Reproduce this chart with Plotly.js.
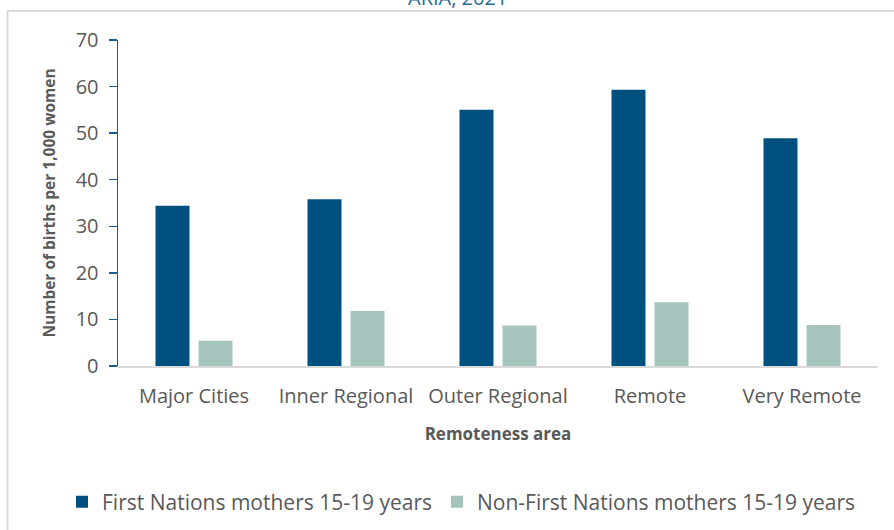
<!DOCTYPE html>
<html>
<head>
<meta charset="utf-8">
<script src="https://cdn.plot.ly/plotly-3.0.1.min.js"></script>
<style>html,body{margin:0;padding:0;background:#fff;}#chart{width:894px;height:530px;}</style>
</head>
<body>
<div id="chart"></div>
<script>
const categories = ["Major Cities", "Inner Regional", "Outer Regional", "Remote", "Very Remote"];
const firstNations = [34.4, 35.8, 55.0, 59.3, 48.9];
const nonFirstNations = [5.4, 11.8, 8.7, 13.7, 8.8];
const seriesNames = ["First Nations mothers 15-19 years", "Non-First Nations mothers 15-19 years"];
const yTicks = [0, 10, 20, 30, 40, 50, 60, 70];

const FONT = "'Open Sans', Lato, sans-serif";
const GREY = "#595959";

const traces = [
  {type: "bar", x: categories, y: firstNations, name: seriesNames[0],
   marker: {color: "#00507f"}, hoverinfo: "skip"},
  {type: "bar", x: categories, y: nonFirstNations, name: seriesNames[1],
   marker: {color: "#a5c4bd"}, hoverinfo: "skip"}
];

const W = 894, H = 530, L = 118, R = 16, T = 40, B = 164;
const pw = W - L - R, ph = H - T - B;
const px = v => (v - L) / pw;
const py = v => (H - B - v) / ph;

const layout = {
  width: W, height: H,
  margin: {l: L, r: R, t: T, b: B, pad: 0, autoexpand: false},
  paper_bgcolor: "#ffffff", plot_bgcolor: "#ffffff",
  font: {family: FONT, color: GREY, size: 20},
  barmode: "group", bargap: 0.434, bargroupgap: 0.21,
  showlegend: true,
  legend: {orientation: "h", x: px(62), xanchor: "left", y: py(502), yanchor: "middle",
           font: {family: FONT, size: 21, color: GREY}, traceorder: "normal",
           itemwidth: 30, bgcolor: "rgba(0,0,0,0)"},
  xaxis: {
    type: "category", showgrid: false, zeroline: false, automargin: false,
    showline: true, linecolor: "#d9d9d9", linewidth: 2,
    ticks: "", ticklabelstandoff: 11, tickfont: {family: FONT, size: 20, color: GREY},
    title: {text: "<b>Remoteness area</b>", font: {family: FONT, size: 17, color: GREY}, standoff: 20}
  },
  yaxis: {
    range: [0, 70], tickvals: yTicks, ticktext: yTicks.map(String),
    showgrid: false, zeroline: false, automargin: false,
    showline: true, linecolor: "#1f5b8a", linewidth: 1.5,
    ticks: "outside", ticklen: 8, tickcolor: "#1f5b8a", tickwidth: 1.5,
    ticklabelstandoff: 6,
    tickfont: {family: FONT, size: 20, color: GREY},
    title: {text: "<b>Number of births per 1,000 women</b>", font: {family: FONT, size: 15.5, color: GREY}, standoff: 16}
  },
  annotations: [
    {text: "ARIA, 2021", xref: "paper", yref: "paper", x: px(457), y: py(-3),
     xanchor: "center", yanchor: "middle", showarrow: false,
     font: {family: FONT, size: 20, color: "#1f6a9a"}}
  ],
  shapes: [
    {type: "line", xref: "paper", yref: "paper", x0: px(7.5), x1: px(7.5), y0: py(11), y1: py(531),
     line: {color: "#d9d9d9", width: 2}},
    {type: "line", xref: "paper", yref: "paper", x0: px(7.5), x1: px(895), y0: py(11), y1: py(11),
     line: {color: "#d9d9d9", width: 2}}
  ]
};

Plotly.newPlot("chart", traces, layout, {displayModeBar: false, staticPlot: true});
</script>
</body>
</html>
